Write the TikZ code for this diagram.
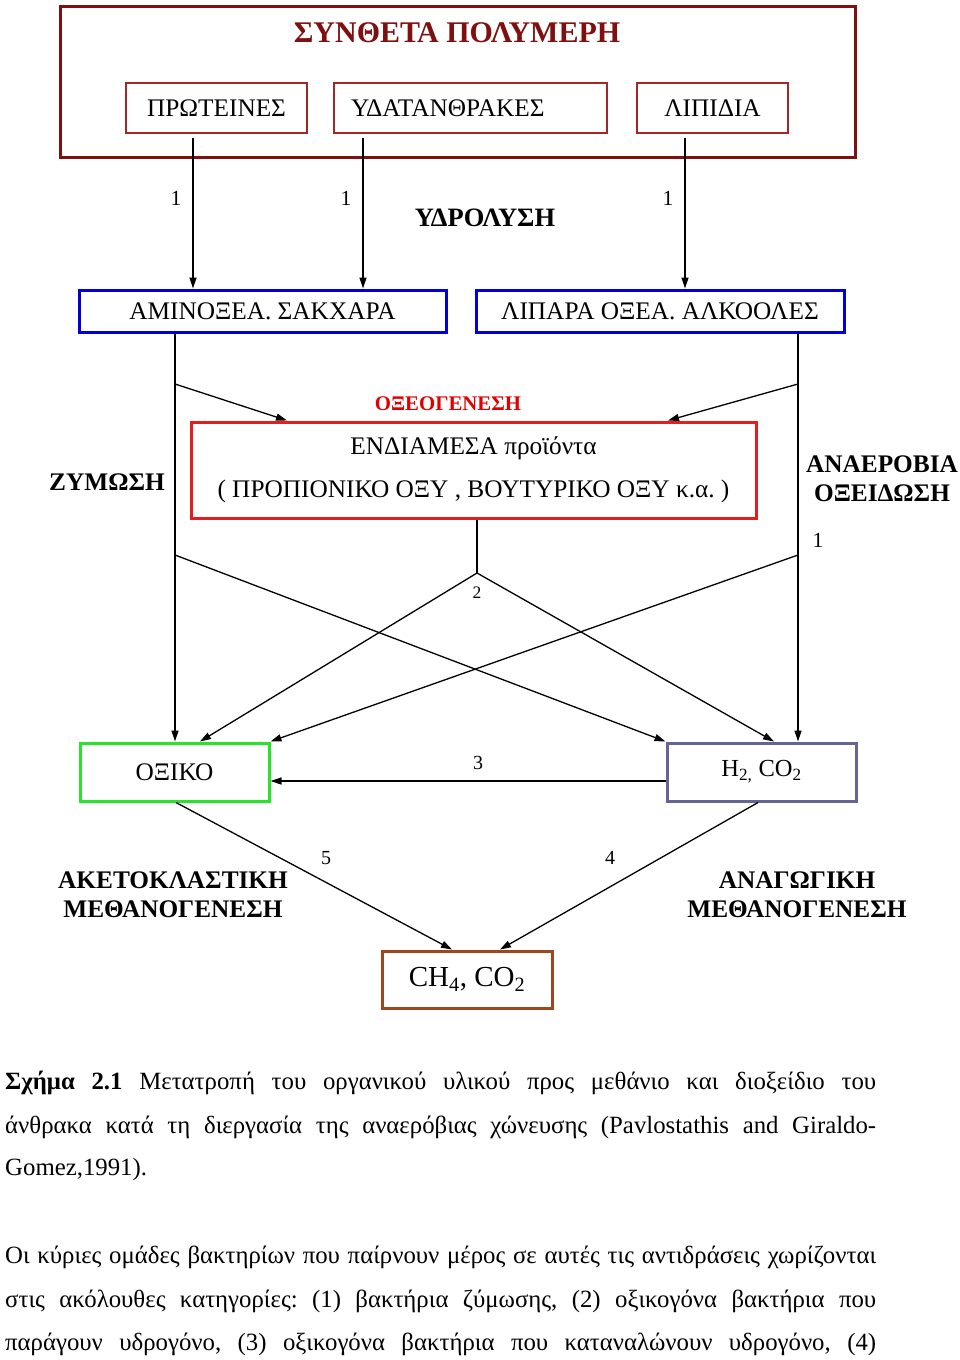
\documentclass[tikz,border=0pt]{standalone}
\usepackage{fontspec}
\setmainfont{Liberation Serif}
\usetikzlibrary{arrows.meta}
\definecolor{dkred}{RGB}{128,16,16}
\definecolor{boxred}{RGB}{160,40,40}
\definecolor{blu}{RGB}{0,0,215}
\definecolor{redb}{RGB}{228,30,30}
\definecolor{redt}{RGB}{225,0,0}
\definecolor{grn}{RGB}{40,228,40}
\definecolor{slate}{RGB}{100,100,150}
\definecolor{brwn}{RGB}{160,70,30}
\begin{document}
\frenchspacing
\begin{tikzpicture}[x=1pt,y=-1pt,
  box/.style={draw, inner sep=0pt, font=\fontsize{25.3}{29}\selectfont},
  lbl/.style={inner sep=0pt, align=center, font=\fontsize{25.3}{29}\selectfont\bfseries},
  num/.style={inner sep=0pt, font=\fontsize{21.5}{24}\selectfont},
  arr/.style={-{Triangle[length=11pt,width=7pt]}, line width=1.3pt},
  ln/.style={line width=1.3pt},
  txt/.style={inner sep=0pt, anchor=west, font=\fontsize{24.8}{28}\selectfont}]
\fill[white] (0,0) rectangle (960,1360);
\useasboundingbox (0,0) rectangle (960,1360);
% top group
\node[box, draw=dkred, line width=3pt, minimum width=795pt, minimum height=151pt] (outer) at (457.5,81.5) {};
\node[inner sep=0pt, text=dkred, font=\fontsize{30}{34}\selectfont\bfseries] (title) at (457,33) {ΣΥΝΘΕΤΑ ΠΟΛΥΜΕΡΗ};
\node[box, draw=boxred, line width=1.6pt, minimum width=181pt, minimum height=50pt] (prot) at (216.5,108) {ΠΡΩΤΕΙΝΕΣ};
\node[box, draw=boxred, line width=1.6pt, text width=239pt, inner xsep=17pt, align=left, minimum height=50pt] (ydat) at (470.5,108) {ΥΔΑΤΑΝΘΡΑΚΕΣ};
\node[box, draw=boxred, line width=1.6pt, minimum width=151pt, minimum height=50pt] (lip) at (712.5,108) {ΛΙΠΙΔΙΑ};
% hydrolysis products
\node[box, draw=blu, line width=3pt, minimum width=367pt, minimum height=42pt] (amino) at (262.5,311) {ΑΜΙΝΟΞΕΑ. ΣΑΚΧΑΡΑ};
\node[box, draw=blu, line width=3pt, minimum width=368pt, minimum height=42pt] (lipara) at (660,311) {ΛΙΠΑΡΑ ΟΞΕΑ. ΑΛΚΟΟΛΕΣ};
% intermediate
\node[box, draw=redb, line width=3pt, minimum width=565pt, minimum height=96pt, align=center, font=\fontsize{25.3}{43}\selectfont] (inter) at (473.5,470) {ΕΝΔΙΑΜΕΣΑ προϊόντα\\( ΠΡΟΠΙΟΝΙΚΟ ΟΞΥ , ΒΟΥΤΥΡΙΚΟ ΟΞΥ κ.α. )};
% lower boxes
\node[box, draw=grn, line width=3pt, minimum width=189pt, minimum height=58pt] (oxiko) at (174.5,772) {ΟΞΙΚΟ};
\node[box, draw=slate, line width=3pt, minimum width=189pt, minimum height=58pt, font=\fontsize{24.5}{28}\selectfont] (h2) at (761.5,772) {H\textsubscript{2,} CO\textsubscript{2}};
\node[box, draw=brwn, line width=3pt, minimum width=170pt, minimum height=57pt, font=\fontsize{29}{32}\selectfont] (ch4) at (467,979.5) {CH\textsubscript{4}, CO\textsubscript{2}};
% labels
\node[num] (n1a) at (176,198) {1};
\node[num] (n1b) at (346,198) {1};
\node[num] (n1c) at (668,198) {1};
\node[num] (n1d) at (818,540) {1};
\node[lbl, font=\fontsize{26.5}{30}\selectfont\bfseries] (hydro) at (485,218) {ΥΔΡΟΛΥΣΗ};
\node[lbl, text=redt, font=\fontsize{20.8}{24}\selectfont\bfseries] (oxeo) at (448,404) {ΟΞΕΟΓΕΝΕΣΗ};
\node[lbl] (zym) at (107,482) {ΖΥΜΩΣΗ};
\node[lbl] (anaer) at (882,478.5) {ΑΝΑΕΡΟΒΙΑ\\ΟΞΕΙΔΩΣΗ};
\node[num, font=\fontsize{17.5}{20}\selectfont] (n2) at (477,593) {2};
\node[num, font=\fontsize{20}{23}\selectfont] (n3) at (478,763) {3};
\node[num, font=\fontsize{20}{23}\selectfont] (n5) at (326,858) {5};
\node[num, font=\fontsize{20}{23}\selectfont] (n4) at (610,858) {4};
\node[lbl] (aceto) at (173,894.5) {ΑΚΕΤΟΚΛΑΣΤΙΚΗ\\ΜΕΘΑΝΟΓΕΝΕΣΗ};
\node[lbl] (anag) at (797,894.5) {ΑΝΑΓΩΓΙΚΗ\\ΜΕΘΑΝΟΓΕΝΕΣΗ};
% coordinates
\coordinate (a1) at (193,138);
\coordinate (a2) at (363,138);
\coordinate (a3) at (685,138);
\coordinate (zx) at (175,0);
\coordinate (ax) at (798,0);
\coordinate (z1) at (175,384);
\coordinate (r1) at (798,384);
\coordinate (i1) at (287,0);
\coordinate (i2) at (668,0);
\coordinate (z2) at (175,555);
\coordinate (r2) at (798,555);
\coordinate (ap) at (477,573);
\coordinate (o2) at (200,0);
\coordinate (h2x) at (774,0);
\coordinate (o5) at (176,0);
\coordinate (c5) at (452,0);
\coordinate (h4) at (758,0);
\coordinate (c4) at (500,0);
% connectors
\draw[arr] (a1) -- (a1 |- amino.north);
\draw[arr] (a2) -- (a2 |- amino.north);
\draw[arr] (a3) -- (a3 |- lipara.north);
\draw[arr] (amino.south -| zx) -- (oxiko.north -| zx);
\draw[arr] (lipara.south -| ax) -- (h2.north -| ax);
\draw[arr] (z1) -- (inter.north -| i1);
\draw[arr] (r1) -- (inter.north -| i2);
\draw[arr] (z2) -- (h2.north west);
\draw[arr] (r2) -- (oxiko.north east);
\draw[ln] (inter.south -| ap) -- (ap);
\draw[arr] (ap) -- (oxiko.north -| o2);
\draw[arr] (ap) -- (h2.north -| h2x);
\draw[arr] ([yshift=-9pt]h2.west) -- ([yshift=-9pt]oxiko.east);
\draw[arr] (oxiko.south -| o5) -- (ch4.north -| c5);
\draw[arr] (h2.south -| h4) -- (ch4.north -| c4);
% caption and text
\node[txt] (cap1) at (5,1083) {\frenchspacing\spaceskip=0.25em plus 2em minus 0.15em\hbox to 871pt{\textbf{Σχήμα 2.1} Μετατροπή του οργανικού υλικού προς μεθάνιο και διοξείδιο του}};
\node[txt] (cap2) at (5,1127) {\frenchspacing\spaceskip=0.25em plus 2em minus 0.15em\hbox to 871pt{άνθρακα κατά τη διεργασία της αναερόβιας χώνευσης (Pavlostathis and Giraldo-}};
\node[txt] (cap3) at (5,1170) {Gomez,1991).};
\node[txt] (par1) at (5,1257) {\frenchspacing\spaceskip=0.25em plus 2em minus 0.18em\hbox to 871pt{Οι κύριες ομάδες βακτηρίων που παίρνουν μέρος σε αυτές τις αντιδράσεις χωρίζονται}};
\node[txt] (par2) at (5,1301) {\frenchspacing\spaceskip=0.25em plus 2em minus 0.15em\hbox to 871pt{στις ακόλουθες κατηγορίες: (1) βακτήρια ζύμωσης, (2) οξικογόνα βακτήρια που}};
\node[txt] (par3) at (5,1344) {\frenchspacing\spaceskip=0.25em plus 2em minus 0.15em\hbox to 871pt{παράγουν υδρογόνο, (3) οξικογόνα βακτήρια που καταναλώνουν υδρογόνο, (4)}};
\end{tikzpicture}
\end{document}
